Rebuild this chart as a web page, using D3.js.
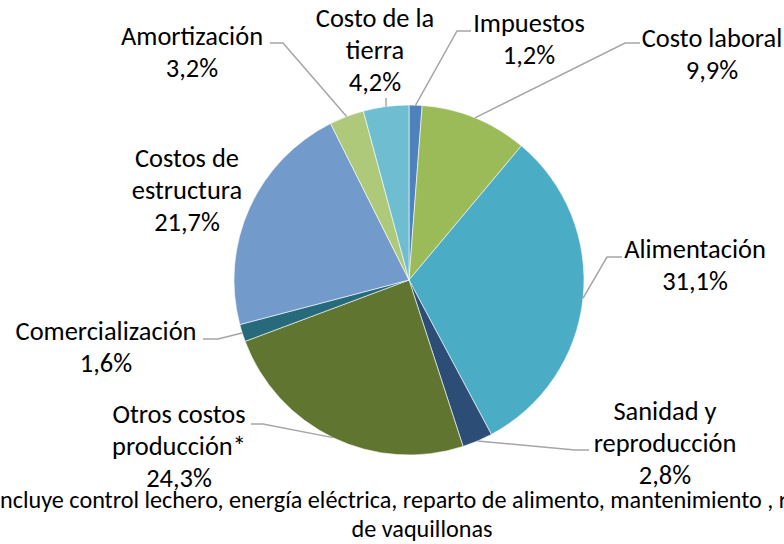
<!DOCTYPE html>
<html lang="es">
<head>
<meta charset="UTF-8">
<title>Estructura de costos</title>
<style>
  body { margin: 0; background: #fff; overflow: hidden; }
  text { font-family: Carlito, Lato, "Open Sans", sans-serif; fill: #000; }
</style>
</head>
<body>
<script src="https://cdn.jsdelivr.net/npm/d3@7"></script>
<script>
// data
var categories = ['Impuestos', 'Costo laboral', 'Alimentación', 'Sanidad y reproducción',
    'Otros costos producción*', 'Comercialización', 'Costos de estructura', 'Amortización', 'Costo de la tierra']
var values = [1.2, 9.9, 31.1, 2.8, 24.3, 1.6, 21.7, 3.2, 4.2]
var labelLines = [
    ['Impuestos'], ['Costo laboral'], ['Alimentación'], ['Sanidad y', 'reproducción'],
    ['Otros costos', 'producción*'], ['Comercialización'], ['Costos de', 'estructura'],
    ['Amortización'], ['Costo de la', 'tierra']
]
var footnote = ['*Incluye control lechero, energía eléctrica, reparto de alimento, mantenimiento , recría', 'de vaquillonas']

var colors = ['#4F81BD', '#9BBB59', '#4BACC6', '#2C4D75', '#5F7530', '#276A7C', '#729ACA', '#AFC97A', '#6FBDD1']

// label layout: centre x, first baseline, leader elbow [x,y] and end x (null = no leader)
var labelPos = [
    {x: 529, y: 32, elbow: [457, 31], end: 471},
    {x: 712, y: 47, elbow: [625, 43], end: 640},
    {x: 695, y: 258, elbow: [607, 257], end: 622},
    {x: 665, y: 420, elbow: [575, 450], end: 589},
    {x: 179, y: 423, elbow: [263, 424], end: 251},
    {x: 106, y: 340, elbow: [218, 339], end: 203},
    {x: 187, y: 167, elbow: null},
    {x: 192, y: 45, elbow: [283, 43], end: 270},
    {x: 375, y: 27, elbow: [386, 98], end: 386}
]

var width = 784, height = 544
var cx = 409, cy = 280, radius = 175
var lineH = 32

var svg = d3.select('body').append('svg').attr('width', width).attr('height', height)

// fit the substitute font to the width of the original labels
var probe = svg.append('text').style('font-size', '26px').text('Comercialización')
var fontSize = 26 * 181 / probe.node().getComputedTextLength()
probe.remove()

var pie = d3.pie().sort(null).value(d => d)
var arcs = pie(values)
var arc = d3.arc().innerRadius(0).outerRadius(radius)

var g = svg.append('g').attr('transform', `translate(${cx},${cy})`)
g.selectAll('path.slice')
    .data(arcs).enter().append('path')
    .attr('class', 'slice')
    .attr('d', arc)
    .attr('fill', (d, i) => colors[i])
    .attr('stroke', '#fff')
    .attr('stroke-width', 0.6)

// leader lines from the middle of each slice's rim
var leaders = svg.append('g')
    .attr('fill', 'none')
    .attr('stroke', '#A6A6A6')
    .attr('stroke-width', 1.5)
arcs.forEach(function (d, i) {
    var p = labelPos[i]
    if (!p.elbow) return
    var a = (d.startAngle + d.endAngle) / 2
    var sx = cx + radius * Math.sin(a), sy = cy - radius * Math.cos(a)
    leaders.append('polyline')
        .attr('points', [[sx, sy], p.elbow, [p.end, p.elbow[1]]].map(q => q.join(',')).join(' '))
})

var fmt = v => d3.format('.1f')(v).replace('.', ',') + '%'
var labels = svg.append('g').style('font-size', fontSize + 'px').attr('text-anchor', 'middle')
arcs.forEach(function (d, i) {
    var p = labelPos[i]
    var lines = labelLines[i].concat([fmt(values[i])])
    var t = labels.append('text')
    lines.forEach(function (s, k) {
        t.append('tspan').attr('x', p.x).attr('y', p.y + k * lineH).text(s)
    })
})

// footnote, first line runs past both edges of the picture
var foot = svg.append('g').style('font-size', '20px')
var probe2 = foot.append('text').text('de vaquillonas')
var footSize = 20 * 141 / probe2.node().getComputedTextLength()
probe2.remove()
foot.style('font-size', footSize + 'px')
var f1 = foot.append('text').text(footnote[0])
var pre = foot.append('text').text('*I')
var preW = pre.node().getComputedTextLength()
pre.remove()
f1.attr('x', -preW).attr('y', 508)
foot.append('text').attr('x', 422).attr('y', 537).attr('text-anchor', 'middle').text(footnote[1])
</script>
</body>
</html>
